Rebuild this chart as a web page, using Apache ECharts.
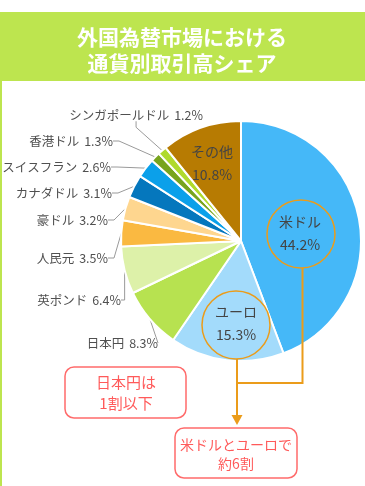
<!DOCTYPE html>
<html><head><meta charset="utf-8">
<script src="https://cdn.jsdelivr.net/npm/echarts@6/dist/echarts.min.js"></script>
<style>html,body{margin:0;padding:0;background:#fff}#c{width:365px;height:486px}</style>
</head><body><div id="c"></div><script>
const categories = ['米ドル','ユーロ','日本円','英ポンド','人民元','豪ドル','カナダドル','スイスフラン','香港ドル','シンガポールドル','その他'];
const shares = [44.2, 15.3, 8.3, 6.4, 3.5, 3.2, 3.1, 2.6, 1.3, 1.2, 10.8];
const sliceColors = ['#45b8f8','#a3dbfb','#b7e250','#ddf1a9','#fab941','#fed68f','#0577bd','#0ba0ea','#78a41e','#b0da2c','#b77b02'];
const titleLines = ['外国為替市場における','通貨別取引高シェア'];
const noteJPY = ['日本円は','1割以下'];
const noteUSDEUR = ['米ドルとユーロで','約6割'];
const insideLabels = ['米ドル','ユーロ','その他'];

const FONT = '"Noto Sans CJK JP", sans-serif';
const GREEN = '#bde54f';
const ORANGE = '#eb9c1a';
const RED = '#ff6b6b';

// label anchor placement (layout only)
const labelAt = [
  {x:300, y:233, align:'center'},
  {x:236, y:323, align:'center'},
  {x:158, y:343, align:'right'},
  {x:121, y:300, align:'right'},
  {x:108, y:258, align:'right'},
  {x:108, y:220, align:'right'},
  {x:112, y:193, align:'right'},
  {x:111, y:167, align:'right'},
  {x:113, y:141, align:'right'},
  {x:203, y:115, align:'right'},
  {x:212, y:163, align:'center'}
];

const data = categories.map((name, i) => {
  const inside = insideLabels.includes(name);
  const d = { name, value: shares[i], itemStyle: { color: sliceColors[i] } };
  if (inside) {
    d.label = { position: 'inside', formatter: '{b}\n{c}%', fontSize: 14, lineHeight: 23, color: '#444', align: 'center' };
    d.labelLine = { show: false };
  }
  return d;
});

const chart = echarts.init(document.getElementById('c'), null, { renderer: 'canvas' });
chart.setOption({
  animation: false,
  textStyle: { fontFamily: FONT },
  graphic: [
    { type: 'rect', shape: { x: 0, y: 12, width: 365, height: 69 }, style: { fill: GREEN }, z: 1 },
    { type: 'rect', shape: { x: 0, y: 81, width: 2, height: 405 }, style: { fill: GREEN }, z: 1 },
    { type: 'text', x: 182, y: 50, z: 2, style: { text: titleLines.join('\n'), fill: '#fff', font: 'bold 21px ' + FONT, textAlign: 'center', textVerticalAlign: 'middle', lineHeight: 26 } },
    // circles
    { type: 'circle', shape: { cx: 301, cy: 234, r: 34 }, style: { fill: 'none', stroke: ORANGE, lineWidth: 1.5 }, z: 100 },
    { type: 'circle', shape: { cx: 236, cy: 325, r: 34 }, style: { fill: 'none', stroke: ORANGE, lineWidth: 1.5 }, z: 100 },
    { type: 'polyline', shape: { points: [[302.5, 268], [302.5, 383], [237, 383]] }, style: { fill: 'none', stroke: ORANGE, lineWidth: 2 }, z: 100 },
    { type: 'polyline', shape: { points: [[237, 359], [237, 417]] }, style: { fill: 'none', stroke: ORANGE, lineWidth: 2 }, z: 100 },
    { type: 'polygon', shape: { points: [[231.5, 415], [242.5, 415], [237, 425]] }, style: { fill: ORANGE }, z: 100 },
    // notes
    { type: 'rect', shape: { x: 65, y: 367, width: 121, height: 51, r: 9 }, style: { fill: '#fff', stroke: RED, lineWidth: 1.5 }, z: 100 },
    { type: 'text', x: 126, y: 393, z: 101, style: { text: noteJPY.join('\n'), fill: '#ff5a5a', font: '15px ' + FONT, textAlign: 'center', textVerticalAlign: 'middle', lineHeight: 21 } },
    { type: 'rect', shape: { x: 175, y: 428, width: 122, height: 50, r: 9 }, style: { fill: '#fff', stroke: RED, lineWidth: 1.5 }, z: 100 },
    { type: 'text', x: 236, y: 454, z: 101, style: { text: noteUSDEUR.join('\n'), fill: '#ff5a5a', font: '14px ' + FONT, textAlign: 'center', textVerticalAlign: 'middle', lineHeight: 19 } }
  ],
  series: [{
    type: 'pie',
    center: [241, 241],
    radius: [0, 120],
    startAngle: 90,
    clockwise: true,
    data: data,
    avoidLabelOverlap: false,
    itemStyle: { borderColor: '#fff', borderWidth: 2 },
    label: {
      show: true, position: 'outside', formatter: '{n|{b}}{v|{c}%}', color: '#505050', overflow: 'none',
      rich: {
        n: { fontSize: 12.5, color: '#505050', fontFamily: FONT },
        v: { fontSize: 12.5, color: '#505050', fontFamily: FONT, padding: [0, 0, 0, 5] }
      }
    },
    labelLine: { show: true, length: 8, length2: 6, lineStyle: { color: '#9a9a9a', width: 1 } },
    labelLayout: function (p) {
      const a = labelAt[p.dataIndex];
      return { x: a.x, y: a.y, align: a.align, verticalAlign: 'middle' };
    },
    emphasis: { disabled: true }
  }]
});
</script></body></html>
